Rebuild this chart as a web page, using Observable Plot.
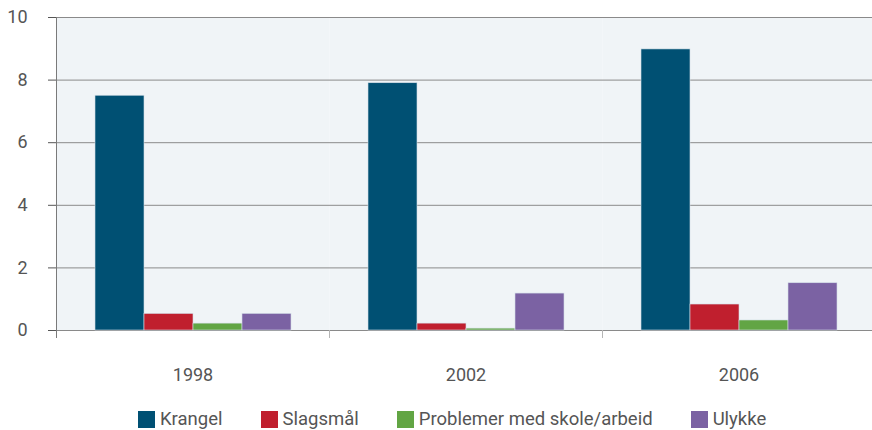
<!DOCTYPE html>
<html>
<head>
<meta charset="utf-8">
<script src="https://cdn.jsdelivr.net/npm/d3@7"></script>
<script src="https://cdn.jsdelivr.net/npm/@observablehq/plot@0.6"></script>
<style>
  html, body { margin: 0; padding: 0; background: #fff; overflow: hidden; }
  #chart svg { display: block; }
  #chart svg [aria-label="y-axis tick"] { stroke: #8a8a8a; }
  #legend { height: 35px; display: flex; align-items: flex-start; padding-left: 138px;
            font-family: Roboto, "DejaVu Sans", sans-serif; font-size: 18.5px; color: #555; white-space: nowrap; }
  #legend .item { display: flex; align-items: center; margin-right: 38px; margin-top: 13px; }
  #legend .sw { width: 17px; height: 17px; margin-right: 5px; }
</style>
</head>
<body>
<div id="chart"></div>
<div id="legend"></div>
<script>
const years = ["1998", "2002", "2006"];
const series = ["Krangel", "Slagsmål", "Problemer med skole/arbeid", "Ulykke"];
const krangel = [7.5, 7.9, 8.98];
const slagsmal = [0.53, 0.22, 0.83];
const problemer = [0.22, 0.06, 0.32];
const ulykke = [0.53, 1.18, 1.51];
const colors = ["#005073", "#c01f2e", "#62a544", "#7b62a3"];
const yTicks = [0, 2, 4, 6, 8, 10];

const seriesValues = [krangel, slagsmal, problemer, ulykke];
const data = years.flatMap((yr, i) =>
  series.map((s, j) => ({ year: yr, series: s, value: seriesValues[j][i] })));

const chart = Plot.plot({
  width: 872,
  height: 395,
  marginTop: 17,
  marginBottom: 65,
  marginLeft: 55,
  marginRight: -3,
  style: { fontFamily: "Roboto, 'DejaVu Sans', sans-serif", fontSize: "18px", color: "#555", background: "white" },
  fx: { domain: years, padding: 0, axis: "bottom", tickSize: 0, tickPadding: 38, label: null },
  x: { domain: series, paddingInner: 0, paddingOuter: 0.735, axis: null },
  y: { domain: [0, 10], ticks: 5, tickSize: 8, tickPadding: 21, label: null, tickFormat: d => String(d) },
  color: { domain: series, range: colors },
  marks: [
    Plot.frame({ fill: "#f0f4f7", stroke: null }),
    Plot.ruleY(yTicks, { stroke: "#8a8a8a", strokeWidth: 1 }),
    Plot.barY(data, { fx: "year", x: "series", y: "value", fill: "series", stroke: "#d3dee8", strokeWidth: 0.6 })
  ]
});
document.getElementById("chart").appendChild(chart);

// axis line on the left and group separators below the baseline
const fxs = chart.scale("fx");
const ys = chart.scale("y");
const svg = d3.select(chart);
const y0 = ys.apply(0), y10 = ys.apply(10);
years.forEach((yr, i) => {
  const xx = Math.round(fxs.apply(yr)) + 0.5;
  svg.append("line")
    .attr("x1", xx).attr("x2", xx)
    .attr("y1", i === 0 ? y10 : y0).attr("y2", y0 + 8)
    .attr("stroke", i === 0 ? "#7a7a7a" : "#b5b5b5")
    .attr("stroke-width", 1);
});

// legend
const legend = d3.select("#legend");
series.forEach((s, j) => {
  const it = legend.append("div").attr("class", "item");
  it.append("div").attr("class", "sw").style("background", colors[j]);
  it.append("span").text(s);
});
</script>
</body>
</html>
